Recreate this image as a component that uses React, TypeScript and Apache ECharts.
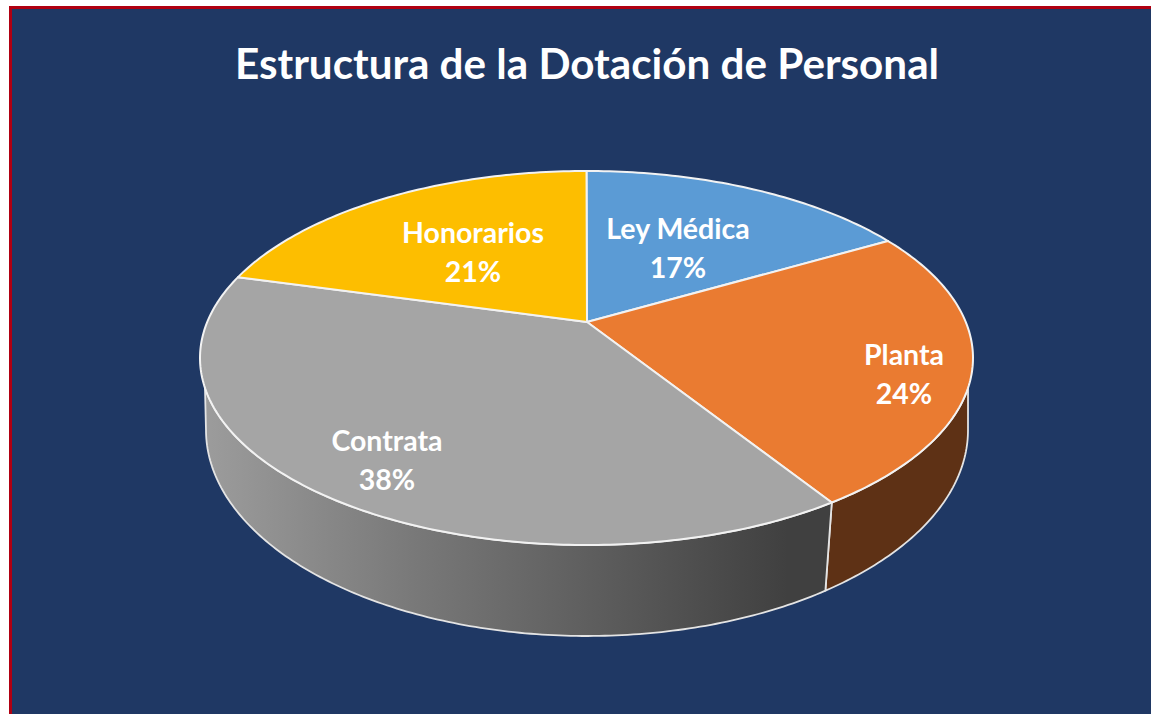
import React, { useEffect, useRef } from "react";
import * as echarts from "echarts";

const TITLE = "Estructura de la Dotación de Personal";
const CATEGORIES = ["Ley Médica", "Planta", "Contrata", "Honorarios"];
const VALUES = [17, 24, 38, 21];
const TOP_COLORS = ["#5B9BD5", "#EA7B31", "#A5A5A5", "#FDBE00"];
const LABEL_X = [678, 904, 387, 473];
const LABEL_Y = [247, 373, 459, 251];

const W = 1151;
const H = 714;
const APEX = { x: 587, y: 322 };
const TOPE = { cx: 586.5, cy: 358, rx: 386.5, ry: 187, w: 0.104 };
const BOTE = { cx: 587, cy: 430, rx: 381, ry: 206, w: 0.095 };
const FRONT_START = (-9.2 * Math.PI) / 180;
const FRONT_END = (-170.8 * Math.PI) / 180;

const total = VALUES.reduce((a, b) => a + b, 0);
const cumul = (i: number) => VALUES.slice(0, i).reduce((a, b) => a + b, 0) / total;

// Perspective: a Moebius map of the circle moves the rim towards the viewer's far side.
function rimAngle(f: number, w: number) {
  const t = Math.PI / 2 - 2 * Math.PI * f;
  const zx = Math.cos(t);
  const zy = Math.sin(t);
  const nx = zx;
  const ny = zy + w;
  const dx = 1 + w * zy;
  const dy = -w * zx;
  let d = Math.atan2(ny, nx) - Math.atan2(dy, dx) - t;
  while (d > Math.PI) d -= 2 * Math.PI;
  while (d < -Math.PI) d += 2 * Math.PI;
  return t + d;
}

const onEllipse = (e: typeof TOPE, a: number): number[] => [e.cx + e.rx * Math.cos(a), e.cy - e.ry * Math.sin(a)];

function arc(e: typeof TOPE, a0: number, a1: number) {
  const n = Math.max(2, Math.ceil(Math.abs(a1 - a0) / 0.015));
  const pts: number[][] = [];
  for (let k = 0; k <= n; k++) pts.push(onEllipse(e, a0 + ((a1 - a0) * k) / n));
  return pts;
}

function renderWall(params: any) {
  const i = params.dataIndex;
  const a0 = rimAngle(cumul(i), TOPE.w);
  const a1 = rimAngle(cumul(i + 1), TOPE.w);
  const from = Math.min(a0, FRONT_START);
  const to = Math.max(a1, FRONT_END);
  if (from <= to) return { type: "group", children: [] };
  const b0 = a0 < FRONT_START ? rimAngle(cumul(i), BOTE.w) : 0;
  const b1 = a1 > FRONT_END ? rimAngle(cumul(i + 1), BOTE.w) : -Math.PI;
  const points = [...arc(TOPE, from, to), ...arc(BOTE, b1, b0)];
  const fill =
    i === 1
      ? "#5E3115"
      : new echarts.graphic.LinearGradient(0, 0, 1, 0, [
          { offset: 0, color: "#9C9C9C" },
          { offset: 0.35, color: "#777777" },
          { offset: 0.7, color: "#565656" },
          { offset: 0.93, color: "#404040" },
          { offset: 1, color: "#404040" },
        ]);
  return {
    type: "polygon",
    shape: { points },
    style: { fill, stroke: "#E4E4E4", lineWidth: 1.8, lineJoin: "round" },
  };
}

function renderTop(params: any, api: any) {
  const i = params.dataIndex;
  const a0 = rimAngle(cumul(i), TOPE.w);
  const a1 = rimAngle(cumul(i + 1), TOPE.w);
  const points = [[APEX.x, APEX.y], ...arc(TOPE, a0, a1)];
  return {
    type: "group",
    children: [
      {
        type: "polygon",
        shape: { points },
        style: { fill: TOP_COLORS[i], stroke: "#F2F2F2", lineWidth: 2, lineJoin: "round" },
      },
      {
        type: "text",
        z2: 10,
        style: {
          x: LABEL_X[i],
          y: LABEL_Y[i],
          text: `${CATEGORIES[i]}\n${api.value(0)}%`,
          fill: "#FFFFFF",
          align: "center",
          verticalAlign: "middle",
          fontFamily: "Lato",
          fontWeight: "bold",
          fontSize: 28.5,
          lineHeight: 39,
        },
      },
    ],
  };
}

export default function App() {
  const ref = useRef<HTMLDivElement>(null);
  useEffect(() => {
    document.body.style.margin = "0";
    document.documentElement.style.overflow = "hidden";
    const chart = echarts.init(ref.current!, null, { renderer: "svg" });
    chart.setOption({
      animation: false,
      backgroundColor: "#FFFFFF",
      title: {
        text: TITLE,
        left: 582,
        top: 36,
        textAlign: "center",
        textStyle: { color: "#FFFFFF", fontFamily: "Lato", fontWeight: "bold", fontSize: 42.2 },
      },
      graphic: [
        { type: "rect", z: -10, shape: { x: 9, y: 6, width: W - 9, height: H - 6 }, style: { fill: "#B00012" } },
        { type: "rect", z: -9, shape: { x: 12, y: 9, width: W - 12, height: H - 9 }, style: { fill: "#1F3864" } },
      ],
      series: [
        {
          type: "custom",
          name: "Lateral",
          coordinateSystem: "none",
          silent: true,
          data: VALUES.map((v, i) => ({ name: CATEGORIES[i], value: v })),
          renderItem: renderWall,
        },
        {
          type: "custom",
          name: "Dotación",
          coordinateSystem: "none",
          silent: true,
          data: VALUES.map((v, i) => ({ name: CATEGORIES[i], value: v })),
          renderItem: renderTop,
        },
      ],
    });
    return () => chart.dispose();
  }, []);
  return <div ref={ref} style={{ width: W, height: H }} />;
}
